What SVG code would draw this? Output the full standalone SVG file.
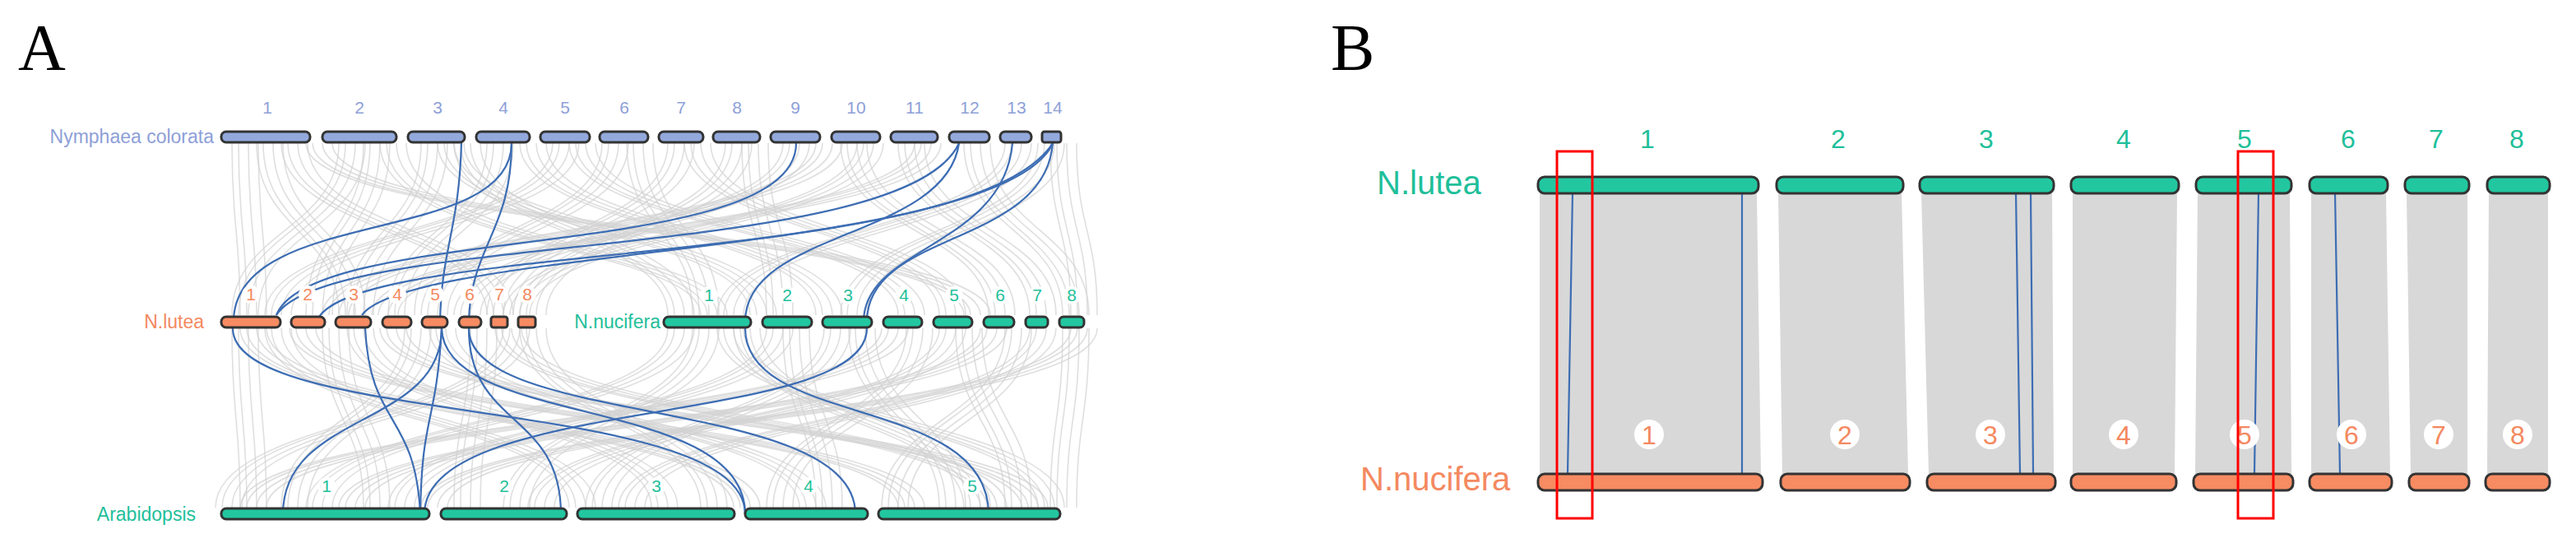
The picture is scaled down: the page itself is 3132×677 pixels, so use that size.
<svg xmlns="http://www.w3.org/2000/svg" xmlns:xlink="http://www.w3.org/1999/xlink" width="3132" height="677" viewBox="0 0 3132 677">
<style>
.bg{fill:#fff}
.let{font-family:"Liberation Serif",serif;font-size:80px;fill:#000}
.t{font-family:"Liberation Sans",Arial,sans-serif}
.num{font-size:21px;text-anchor:middle}
.bar{stroke:#333;stroke-width:3}
.ny{fill:#93a9dc}.nyt{fill:#8e9fd8}
.or{fill:#f78b62}.ort{fill:#f4895f}
.te{fill:#22c7a0}.tet{fill:#1fbf9a}
.g path{fill:none;stroke:#d2d2d2;stroke-width:1.6;opacity:.7}
.bl path{fill:none;stroke:#3d6db3;stroke-width:2.2}
.band{fill:#d8d8d8}
.blB{stroke:#3d6db3;stroke-width:2.2}
.red{fill:none;stroke:#f00;stroke-width:3}
.circ{fill:#fff}
</style>
<rect class="bg" width="3132" height="677"/>
<text class="let" x="22" y="85">A</text>
<text class="let" x="1618" y="85">B</text>

<g id="connectors">
<g class="g" id="gA">
<path d="M290 174 C290 280,300 280,300 383"/><path d="M320 174 C320 280,420 280,420 383"/><path d="M350 174 C350 280,600 280,600 383"/>
<path d="M420 174 C420 280,290 280,290 383"/><path d="M450 174 C450 280,380 280,380 383"/><path d="M470 174 C470 300,860 300,860 383"/>
<path d="M520 174 C520 280,430 280,430 383"/><path d="M540 174 C540 280,920 280,920 383"/><path d="M600 174 C600 280,480 280,480 383"/>
<path d="M640 174 C640 280,1000 280,1000 383"/><path d="M680 174 C680 280,330 280,330 383"/><path d="M700 174 C700 280,1100 280,1100 383"/>
<path d="M740 174 C740 280,520 280,520 383"/><path d="M770 174 C770 280,850 280,850 383"/><path d="M820 174 C820 280,600 280,600 383"/>
<path d="M840 174 C840 280,1150 280,1150 383"/><path d="M890 174 C890 280,640 280,640 383"/><path d="M910 174 C910 280,940 280,940 383"/>
<path d="M960 174 C960 280,560 280,560 383"/><path d="M1030 174 C1030 280,1210 280,1210 383"/><path d="M1050 174 C1050 280,620 280,620 383"/>
<path d="M1100 174 C1100 280,1260 280,1260 383"/><path d="M1120 174 C1120 280,460 280,460 383"/><path d="M1180 174 C1180 280,1300 280,1300 383"/>
<path d="M1230 174 C1230 280,880 280,880 383"/><path d="M1270 174 C1270 280,1030 280,1030 383"/><path d="M1285 174 C1285 280,1310 280,1310 383"/>
<path d="M380 174 C380 280,1180 280,1180 383"/><path d="M560 174 C560 280,820 280,820 383"/><path d="M1000 174 C1000 280,400 280,400 383"/>
<path d="M290 399 C290 510,300 510,300 617"/><path d="M330 399 C330 510,700 510,700 617"/><path d="M360 399 C360 510,1100 510,1100 617"/>
<path d="M400 399 C400 510,450 510,450 617"/><path d="M430 399 C430 510,800 510,800 617"/><path d="M470 399 C470 510,1250 510,1250 617"/>
<path d="M500 399 C500 510,350 510,350 617"/><path d="M530 399 C530 510,980 510,980 617"/><path d="M580 399 C580 510,560 510,560 617"/>
<path d="M610 399 C610 510,1200 510,1200 617"/><path d="M640 399 C640 510,860 510,860 617"/><path d="M820 399 C820 510,380 510,380 617"/>
<path d="M850 399 C850 510,620 510,620 617"/><path d="M880 399 C880 510,1270 510,1270 617"/><path d="M940 399 C940 510,480 510,480 617"/>
<path d="M960 399 C960 510,1000 510,1000 617"/><path d="M1010 399 C1010 510,720 510,720 617"/><path d="M1040 399 C1040 510,1150 510,1150 617"/>
<path d="M1080 399 C1080 510,300 510,300 617"/><path d="M1110 399 C1110 510,940 510,940 617"/><path d="M1150 399 C1150 510,650 510,650 617"/>
<path d="M1170 399 C1170 510,1230 510,1230 617"/><path d="M1200 399 C1200 510,420 510,420 617"/><path d="M1230 399 C1230 510,1080 510,1080 617"/>
<path d="M1260 399 C1260 510,760 510,760 617"/><path d="M1300 399 C1300 510,1285 510,1285 617"/><path d="M1310 399 C1310 510,520 510,520 617"/>
<path d="M300 399 C300 510,900 510,900 617"/><path d="M620 399 C620 510,270 510,270 617"/><path d="M900 399 C900 510,1180 510,1180 617"/>
</g>
<use xlink:href="#gA" href="#gA" transform="translate(12,0)"/>
<use xlink:href="#gA" href="#gA" transform="translate(-8,0)"/>
<use xlink:href="#gA" href="#gA" transform="translate(24,0)"/>
<g class="bl">
<path d="M622 174 C622 300,284 250,284 391"/>
<path d="M561 174 C558 280,537 300,535 391"/>
<path d="M622 174 C622 280,572 300,570 391"/>
<path d="M968 174 C968 320,380 270,336 383"/>
<path d="M1166 174 C1100 320,400 280,336 383"/>
<path d="M1280 174 C1180 330,420 290,385 391"/>
<path d="M1280 174 C1220 310,500 300,440 383"/>
<path d="M1166 174 C1150 290,906 280,906 391"/>
<path d="M1231 174 C1220 300,1050 300,1050 391"/>
<path d="M1280 174 C1270 300,1054 280,1054 391"/>
<path d="M283 399 C283 520,906 480,906 625"/>
<path d="M537 399 C537 520,344 500,344 625"/>
<path d="M537 399 C530 520,513 500,511 625"/>
<path d="M444 399 C450 520,505 500,511 625"/>
<path d="M570 399 C570 520,682 500,682 625"/>
<path d="M570 399 C570 520,1040 480,1040 625"/>
<path d="M537 399 C540 520,906 480,906 625"/>
<path d="M906 399 C906 520,1202 480,1202 625"/>
<path d="M1054 399 C1054 520,516 480,516 625"/>
</g>
<g id="B-links">
<polygon class="band" points="1872,234 2136,234 2141,576 1872,576"/>
<polygon class="band" points="2162,234 2312,234 2320,576 2167,576"/>
<polygon class="band" points="2336,234 2495,234 2497,576 2345,576"/>
<polygon class="band" points="2520,234 2647,234 2644,576 2520,576"/>
<polygon class="band" points="2672,234 2784,234 2786,576 2669,576"/>
<polygon class="band" points="2810,234 2901,234 2906,576 2810,576"/>
<polygon class="band" points="2926,234 3000,234 3000,576 2931,576"/>
<polygon class="band" points="3026,234 3098,234 3098,576 3024,576"/>
<line class="blB" x1="1912" y1="234" x2="1906" y2="576"/>
<line class="blB" x1="2118" y1="234" x2="2118" y2="576"/>
<line class="blB" x1="2451" y1="234" x2="2456" y2="576"/>
<line class="blB" x1="2469" y1="234" x2="2472" y2="576"/>
<line class="blB" x1="2746" y1="234" x2="2741" y2="576"/>
<line class="blB" x1="2839" y1="234" x2="2845" y2="576"/>
</g>
</g>

<g id="Nymphaea" class="t">
<text class="nyt" x="260" y="174" font-size="23" text-anchor="end">Nymphaea colorata</text>
<g class="bar ny">
<rect x="269" y="160" width="108" height="13" rx="6"/><rect x="392" y="160" width="90" height="13" rx="6"/><rect x="496" y="160" width="69" height="13" rx="6"/><rect x="579" y="160" width="65" height="13" rx="6"/><rect x="657" y="160" width="60" height="13" rx="6"/><rect x="729" y="160" width="59" height="13" rx="6"/><rect x="801" y="160" width="54" height="13" rx="6"/><rect x="867" y="160" width="57" height="13" rx="6"/><rect x="937" y="160" width="60" height="13" rx="6"/><rect x="1011" y="160" width="59" height="13" rx="6"/><rect x="1083" y="160" width="57" height="13" rx="6"/><rect x="1154" y="160" width="49" height="13" rx="6"/><rect x="1216" y="160" width="38" height="13" rx="6"/><rect x="1267" y="160" width="23" height="13" rx="3"/>
</g>
<g class="num nyt">
<text x="325" y="138">1</text><text x="437" y="138">2</text><text x="532" y="138">3</text><text x="612" y="138">4</text><text x="687" y="138">5</text><text x="759" y="138">6</text><text x="828" y="138">7</text><text x="896" y="138">8</text><text x="967" y="138">9</text><text x="1041" y="138">10</text><text x="1112" y="138">11</text><text x="1179" y="138">12</text><text x="1236" y="138">13</text><text x="1280" y="138">14</text>
</g>
</g>

<g id="Nlutea-A" class="t">
<text class="ort" x="248" y="399" font-size="23" text-anchor="end">N.lutea</text>
<g class="bar or">
<rect x="269" y="385" width="72" height="13" rx="6"/><rect x="354" y="385" width="41" height="13" rx="6"/><rect x="408" y="385" width="43" height="13" rx="6"/><rect x="465" y="385" width="35" height="13" rx="6"/><rect x="513" y="385" width="31" height="13" rx="6"/><rect x="558" y="385" width="27" height="13" rx="6"/><rect x="597" y="385" width="20" height="13" rx="3"/><rect x="630" y="385" width="21" height="13" rx="3"/>
</g>
<g class="circ">
<circle cx="305" cy="358" r="11"/><circle cx="374" cy="358" r="11"/><circle cx="430" cy="358" r="11"/><circle cx="483" cy="358" r="11"/><circle cx="529" cy="358" r="11"/><circle cx="571" cy="358" r="11"/><circle cx="607" cy="358" r="11"/><circle cx="641" cy="358" r="11"/>
</g>
<g class="num ort">
<text x="305" y="365">1</text><text x="374" y="365">2</text><text x="430" y="365">3</text><text x="483" y="365">4</text><text x="529" y="365">5</text><text x="571" y="365">6</text><text x="607" y="365">7</text><text x="641" y="365">8</text>
</g>
</g>

<g id="Nnucifera-A" class="t">
<text class="tet" x="803" y="399" font-size="23" text-anchor="end">N.nucifera</text>
<g class="bar te">
<rect x="807" y="385" width="106" height="13" rx="6"/><rect x="927" y="385" width="60" height="13" rx="6"/><rect x="1000" y="385" width="60" height="13" rx="6"/><rect x="1074" y="385" width="47" height="13" rx="6"/><rect x="1135" y="385" width="47" height="13" rx="6"/><rect x="1196" y="385" width="37" height="13" rx="6"/><rect x="1247" y="385" width="27" height="13" rx="5"/><rect x="1288" y="385" width="30" height="13" rx="5"/>
</g>
<g class="circ">
<circle cx="862" cy="359" r="11"/><circle cx="957" cy="359" r="11"/><circle cx="1031" cy="359" r="11"/><circle cx="1099" cy="359" r="11"/><circle cx="1160" cy="359" r="11"/><circle cx="1216" cy="359" r="11"/><circle cx="1261" cy="359" r="11"/><circle cx="1303" cy="359" r="11"/>
</g>
<g class="num tet">
<text x="862" y="366">1</text><text x="957" y="366">2</text><text x="1031" y="366">3</text><text x="1099" y="366">4</text><text x="1160" y="366">5</text><text x="1216" y="366">6</text><text x="1261" y="366">7</text><text x="1303" y="366">8</text>
</g>
</g>

<g id="Arabidopsis" class="t">
<text class="tet" x="238" y="633" font-size="23" text-anchor="end">Arabidopsis</text>
<g class="bar te">
<rect x="269" y="618" width="253" height="13" rx="6"/><rect x="536" y="618" width="153" height="13" rx="6"/><rect x="702" y="618" width="191" height="13" rx="6"/><rect x="906" y="618" width="149" height="13" rx="6"/><rect x="1068" y="618" width="221" height="13" rx="6"/>
</g>
<g class="circ">
<circle cx="397" cy="591" r="11"/><circle cx="613" cy="591" r="11"/><circle cx="798" cy="591" r="11"/><circle cx="983" cy="591" r="11"/><circle cx="1182" cy="591" r="11"/>
</g>
<g class="num tet">
<text x="397" y="598">1</text><text x="613" y="598">2</text><text x="798" y="598">3</text><text x="983" y="598">4</text><text x="1182" y="598">5</text>
</g>
</g>

<g id="Nlutea-B" class="t">
<text class="tet" x="1674" y="236" font-size="40">N.lutea</text>
<g class="bar te">
<rect x="1870" y="215" width="268" height="20" rx="8"/><rect x="2160" y="215" width="154" height="20" rx="8"/><rect x="2334" y="215" width="163" height="20" rx="8"/><rect x="2518" y="215" width="131" height="20" rx="8"/><rect x="2670" y="215" width="116" height="20" rx="8"/><rect x="2808" y="215" width="95" height="20" rx="8"/><rect x="2924" y="215" width="78" height="20" rx="8"/><rect x="3024" y="215" width="76" height="20" rx="8"/>
</g>
<g class="tet" font-size="32" text-anchor="middle">
<text x="2003" y="180">1</text><text x="2235" y="180">2</text><text x="2415" y="180">3</text><text x="2582" y="180">4</text><text x="2729" y="180">5</text><text x="2855" y="180">6</text><text x="2962" y="180">7</text><text x="3060" y="180">8</text>
</g>
</g>

<g id="Nnucifera-B" class="t">
<text class="ort" x="1654" y="596" font-size="40">N.nucifera</text>
<g class="bar or">
<rect x="1870" y="576" width="273" height="20" rx="8"/><rect x="2165" y="576" width="157" height="20" rx="8"/><rect x="2343" y="576" width="156" height="20" rx="8"/><rect x="2518" y="576" width="128" height="20" rx="8"/><rect x="2667" y="576" width="121" height="20" rx="8"/><rect x="2808" y="576" width="100" height="20" rx="8"/><rect x="2929" y="576" width="73" height="20" rx="8"/><rect x="3022" y="576" width="78" height="20" rx="8"/>
</g>
<g class="circ">
<circle cx="2005" cy="528" r="18"/><circle cx="2243" cy="528" r="18"/><circle cx="2420" cy="528" r="18"/><circle cx="2582" cy="528" r="18"/><circle cx="2729" cy="528" r="18"/><circle cx="2859" cy="528" r="18"/><circle cx="2965" cy="528" r="18"/><circle cx="3061" cy="528" r="18"/>
</g>
<g class="ort" font-size="32" text-anchor="middle">
<text x="2005" y="540">1</text><text x="2243" y="540">2</text><text x="2420" y="540">3</text><text x="2582" y="540">4</text><text x="2729" y="540">5</text><text x="2859" y="540">6</text><text x="2965" y="540">7</text><text x="3061" y="540">8</text>
</g>
</g>

<g id="highlights">
<rect class="red" x="1893" y="184" width="43" height="446"/>
<rect class="red" x="2721" y="184" width="43" height="446"/>
</g>
</svg>
